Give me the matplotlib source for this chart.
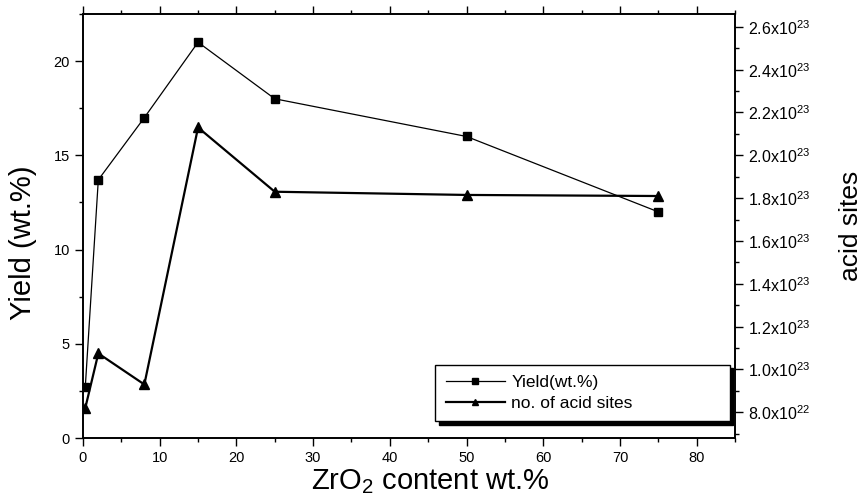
import matplotlib.pyplot as plt
from matplotlib.ticker import MultipleLocator, FuncFormatter

plt.rcParams["font.family"] = ["Liberation Sans", "DejaVu Sans"]
plt.rcParams["mathtext.fontset"] = "custom"
plt.rcParams["mathtext.rm"] = "Liberation Sans"
plt.rcParams["mathtext.default"] = "regular"


# ZrO2 loading and measured results
zro2 = [0.3, 2, 8, 15, 25, 50, 75]
yield_pct = [2.7, 13.7, 17.0, 21.0, 18.0, 16.0, 12.0]
acid_sites = [8.2e22, 1.075e23, 9.3e22, 2.13e23, 1.83e23, 1.815e23, 1.81e23]


fig = plt.figure(figsize=(8.67, 5.03), dpi=100)
ax = fig.add_axes([0.0957, 0.1292, 0.7521, 0.843])
ax2 = ax.twinx()

l1, = ax.plot(zro2, yield_pct, color="black", lw=0.9, marker="s", ms=6)
l2, = ax2.plot(zro2, acid_sites, color="black", lw=1.6, marker="^", ms=7)

ax.set_xlim(0, 85)
ax.set_ylim(0, 22.5)
ax2.set_ylim(6.8e22, 2.66e23)

# ticks
ax.xaxis.set_major_locator(MultipleLocator(10))
ax.xaxis.set_minor_locator(MultipleLocator(5))
ax.yaxis.set_major_locator(MultipleLocator(5))
ax.yaxis.set_minor_locator(MultipleLocator(2.5))
ax2.yaxis.set_major_locator(MultipleLocator(2e22))
ax2.yaxis.set_minor_locator(MultipleLocator(1e22))

ax.tick_params(which="both", direction="out", top=True, labelsize=10.5, width=1)
ax.tick_params(which="major", length=6)
ax.tick_params(which="minor", length=3)
ax2.tick_params(which="both", direction="out", labelsize=11.5, width=1)
ax2.tick_params(which="major", length=6)
ax2.tick_params(which="minor", length=3)


def sci(v, pos):
    exp = 22 if v < 9e22 else 23
    return "%.1fx10$^{%d}$" % (v / 10 ** exp, exp)


ax2.yaxis.set_major_formatter(FuncFormatter(sci))

for a in (ax, ax2):
    for s in a.spines.values():
        s.set_linewidth(1.2)

ax.set_xlabel("ZrO$_2$ content wt.%", fontsize=21)
ax.xaxis.set_label_coords(0.532, -0.07)
ax.set_ylabel("Yield (wt.%)", fontsize=21)
ax.yaxis.set_label_coords(-0.07, 0.46)
ax2.set_ylabel("acid sites", fontsize=19)
ax2.yaxis.set_label_coords(1.16, 0.5)

leg = ax.legend([l1, l2], ["Yield(wt.%)", "no. of acid sites"],
                loc="lower left", bbox_to_anchor=(0.54, 0.04, 0.452, 0.14),
                mode="expand", borderaxespad=0, fontsize=12.5, fancybox=False,
                shadow={"color": "black", "alpha": 1, "ox": 2.5, "oy": -2.5},
                framealpha=1, edgecolor="black", handlelength=3.4,
                handletextpad=0.4, markerscale=0.7,
                borderpad=0.6, labelspacing=0.3)
leg.get_frame().set_linewidth(1)
leg.set_zorder(10)

fig.savefig("out.png", dpi=100)
